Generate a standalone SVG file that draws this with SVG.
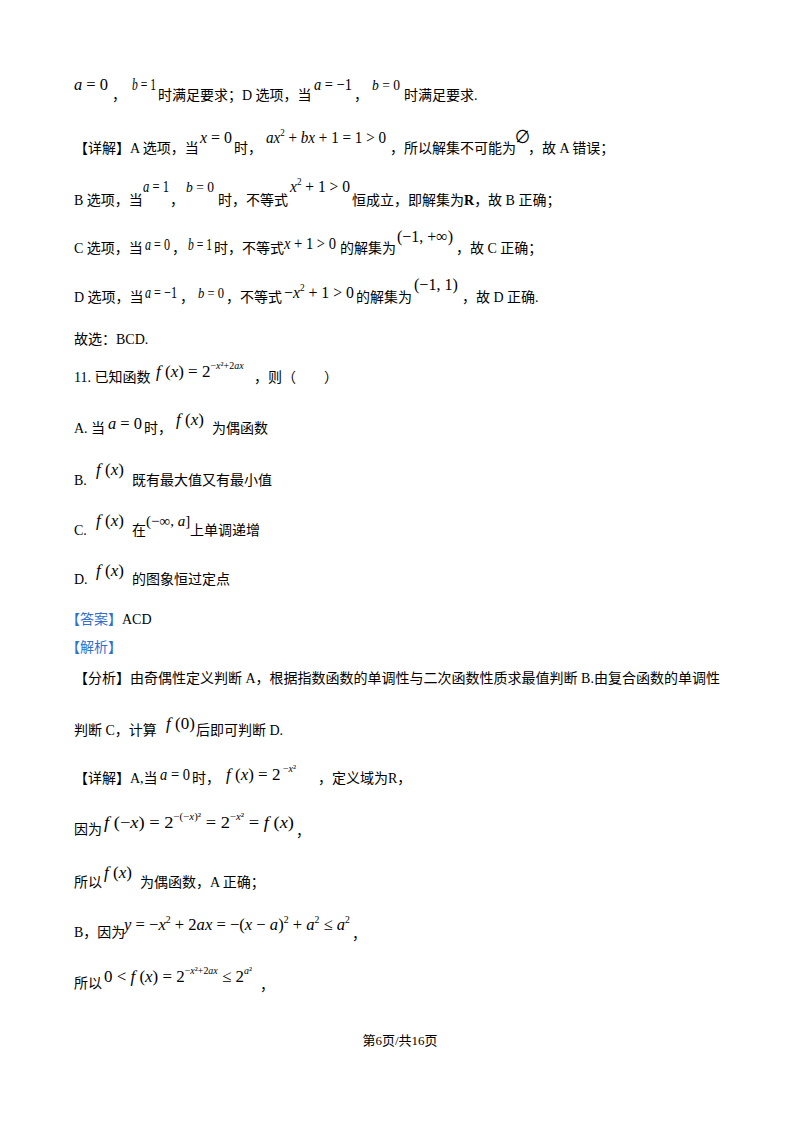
<svg xmlns="http://www.w3.org/2000/svg" width="800" height="1132" viewBox="0 0 800 1132">
<style>
text{font-family:"Liberation Serif","Noto Sans CJK SC",serif;font-size:14px;fill:#000}
.m{font-size:17px}
.i{font-style:italic}
.s{font-size:10px}
.b{fill:#2f6fd0}
</style>
<rect width="800" height="1132" fill="#fff"/>
<g id="body">
<text x="74" y="90" class="m" textLength="34" lengthAdjust="spacingAndGlyphs"><tspan class="i">a</tspan> = 0</text>
<text x="112" y="100">，</text>
<text x="132" y="90" class="m" textLength="24" lengthAdjust="spacingAndGlyphs"><tspan class="i">b</tspan> = 1</text>
<text x="158" y="100">时满足要求；D 选项，当</text>
<text x="314" y="90" class="m" textLength="38" lengthAdjust="spacingAndGlyphs"><tspan class="i">a</tspan> = −1</text>
<text x="354" y="100">，</text>
<text x="372" y="90" textLength="28" lengthAdjust="spacingAndGlyphs"><tspan class="i">b</tspan> = 0</text>
<text x="404" y="100">时满足要求.</text>

<text x="74" y="153">【详解】A 选项，当</text>
<text x="200" y="143" class="m" textLength="32" lengthAdjust="spacingAndGlyphs"><tspan class="i">x</tspan> = 0</text>
<text x="234" y="153">时，</text>
<text x="266" y="143" class="m" textLength="120" lengthAdjust="spacingAndGlyphs"><tspan class="i">ax</tspan><tspan class="s" dy="-7">2</tspan><tspan dy="7"> + </tspan><tspan class="i">bx</tspan> + 1 = 1 &gt; 0</text>
<text x="390" y="153">，所以解集不可能为</text>
<text x="514" y="143" class="m">∅</text>
<text x="528" y="153">，故 A 错误；</text>

<text x="74" y="205">B 选项，当</text>
<text x="143" y="192" class="m" textLength="26" lengthAdjust="spacingAndGlyphs"><tspan class="i">a</tspan> = 1</text>
<text x="170" y="205">，</text>
<text x="186" y="192" textLength="28" lengthAdjust="spacingAndGlyphs"><tspan class="i">b</tspan> = 0</text>
<text x="218" y="205">时，不等式</text>
<text x="290" y="192" class="m" textLength="60" lengthAdjust="spacingAndGlyphs"><tspan class="i">x</tspan><tspan class="s" dy="-7">2</tspan><tspan dy="7"> + 1 &gt; 0</tspan></text>
<text x="352" y="205">恒成立，即解集为<tspan font-weight="bold">R</tspan>，故 B 正确；</text>

<text x="74" y="253">C 选项，当</text>
<text x="145" y="250" class="m" textLength="25" lengthAdjust="spacingAndGlyphs"><tspan class="i">a</tspan> = 0</text>
<text x="172" y="253">，</text>
<text x="188" y="250" class="m" textLength="24" lengthAdjust="spacingAndGlyphs"><tspan class="i">b</tspan> = 1</text>
<text x="214" y="253">时，不等式</text>
<text x="284" y="249" class="m" textLength="52" lengthAdjust="spacingAndGlyphs"><tspan class="i">x</tspan> + 1 &gt; 0</text>
<text x="340" y="253">的解集为</text>
<text x="397" y="242" class="m" textLength="56" lengthAdjust="spacingAndGlyphs">(−1, +∞)</text>
<text x="456" y="253">，故 C 正确；</text>

<text x="74" y="302">D 选项，当</text>
<text x="145" y="298" class="m" textLength="32" lengthAdjust="spacingAndGlyphs"><tspan class="i">a</tspan> = −1</text>
<text x="180" y="302">，</text>
<text x="198" y="298" textLength="26" lengthAdjust="spacingAndGlyphs"><tspan class="i">b</tspan> = 0</text>
<text x="226" y="302">，不等式</text>
<text x="284" y="298" class="m" textLength="70" lengthAdjust="spacingAndGlyphs">−<tspan class="i">x</tspan><tspan class="s" dy="-7">2</tspan><tspan dy="7"> + 1 &gt; 0</tspan></text>
<text x="356" y="302">的解集为</text>
<text x="414" y="290" class="m" textLength="44" lengthAdjust="spacingAndGlyphs">(−1, 1)</text>
<text x="462" y="302">，故 D 正确.</text>

<text x="74" y="344">故选：BCD.</text>

<text x="74" y="382">11. 已知函数</text>
<text x="156" y="377" class="m"><tspan class="i">f</tspan> (<tspan class="i">x</tspan>) = 2<tspan class="s" dy="-8">−</tspan><tspan class="s i">x</tspan><tspan class="s">²+2</tspan><tspan class="s i">ax</tspan></text>
<text x="254" y="382">，则（　　）</text>

<text x="74" y="433">A. 当</text>
<text x="108" y="429" class="m" textLength="34" lengthAdjust="spacingAndGlyphs"><tspan class="i">a</tspan> = 0</text>
<text x="144" y="433">时，</text>
<text x="176" y="425" class="m"><tspan class="i">f</tspan> (<tspan class="i">x</tspan>)</text>
<text x="212" y="433">为偶函数</text>

<text x="74" y="485">B.</text>
<text x="96" y="475" class="m"><tspan class="i">f</tspan> (<tspan class="i">x</tspan>)</text>
<text x="132" y="485">既有最大值又有最小值</text>

<text x="74" y="535">C.</text>
<text x="96" y="526" class="m"><tspan class="i">f</tspan> (<tspan class="i">x</tspan>)</text>
<text x="132" y="535">在</text>
<text x="146" y="526" style="font-size:15px">(−∞, <tspan class="i">a</tspan>]</text>
<text x="190" y="535">上单调递增</text>

<text x="74" y="584">D.</text>
<text x="96" y="576" class="m"><tspan class="i">f</tspan> (<tspan class="i">x</tspan>)</text>
<text x="132" y="584">的图象恒过定点</text>

<text x="66" y="624"><tspan class="b">【答案】</tspan>ACD</text>
<text x="66" y="652" class="b">【解析】</text>

<text x="74" y="683">【分析】由奇偶性定义判断 A，根据指数函数的单调性与二次函数性质求最值判断 B.由复合函数的单调性</text>
<text x="74" y="735">判断 C，计算</text>
<text x="166" y="729" class="m"><tspan class="i">f</tspan> (0)</text>
<text x="196" y="735">后即可判断 D.</text>

<text x="74" y="783">【详解】A,当</text>
<text x="160" y="780" class="m" textLength="30" lengthAdjust="spacingAndGlyphs"><tspan class="i">a</tspan> = 0</text>
<text x="192" y="783">时，</text>
<text x="226" y="780" class="m"><tspan class="i">f</tspan> (<tspan class="i">x</tspan>) = 2<tspan class="s" dy="-8">  −</tspan><tspan class="s i">x</tspan><tspan class="s">²</tspan></text>
<text x="318" y="783">，定义域为R，</text>

<text x="74" y="834">因为</text>
<text x="104" y="828" class="m" textLength="190" lengthAdjust="spacingAndGlyphs"><tspan class="i">f</tspan> (−<tspan class="i">x</tspan>) = 2<tspan class="s" dy="-8">−(−</tspan><tspan class="s i">x</tspan><tspan class="s">)²</tspan><tspan dy="8"> = 2</tspan><tspan class="s" dy="-8">−</tspan><tspan class="s i">x</tspan><tspan class="s">²</tspan><tspan dy="8"> = </tspan><tspan class="i">f</tspan> (<tspan class="i">x</tspan>)</text>
<text x="296" y="836">，</text>

<text x="74" y="887">所以</text>
<text x="104" y="878" class="m"><tspan class="i">f</tspan> (<tspan class="i">x</tspan>)</text>
<text x="140" y="887">为偶函数，A 正确；</text>

<text x="74" y="937">B，因为</text>
<text x="124" y="930" class="m" textLength="226" lengthAdjust="spacingAndGlyphs"><tspan class="i">y</tspan> = −<tspan class="i">x</tspan><tspan class="s" dy="-7">2</tspan><tspan dy="7"> + 2</tspan><tspan class="i">ax</tspan> = −(<tspan class="i">x</tspan> − <tspan class="i">a</tspan>)<tspan class="s" dy="-7">2</tspan><tspan dy="7"> + </tspan><tspan class="i">a</tspan><tspan class="s" dy="-7">2</tspan><tspan dy="7"> ≤ </tspan><tspan class="i">a</tspan><tspan class="s" dy="-7">2</tspan></text>
<text x="352" y="939">，</text>

<text x="74" y="988">所以</text>
<text x="104" y="982" class="m" textLength="148" lengthAdjust="spacingAndGlyphs">0 &lt; <tspan class="i">f</tspan> (<tspan class="i">x</tspan>) = 2<tspan class="s" dy="-8">−</tspan><tspan class="s i">x</tspan><tspan class="s">²+2</tspan><tspan class="s i">ax</tspan><tspan dy="8"> ≤ 2</tspan><tspan class="s i" dy="-8">a</tspan><tspan class="s">²</tspan></text>
<text x="260" y="990">，</text>
</g>
<g id="footer">
<text x="400" y="1045" text-anchor="middle" style="font-size:13px">第6页/共16页</text>
</g>
</svg>
